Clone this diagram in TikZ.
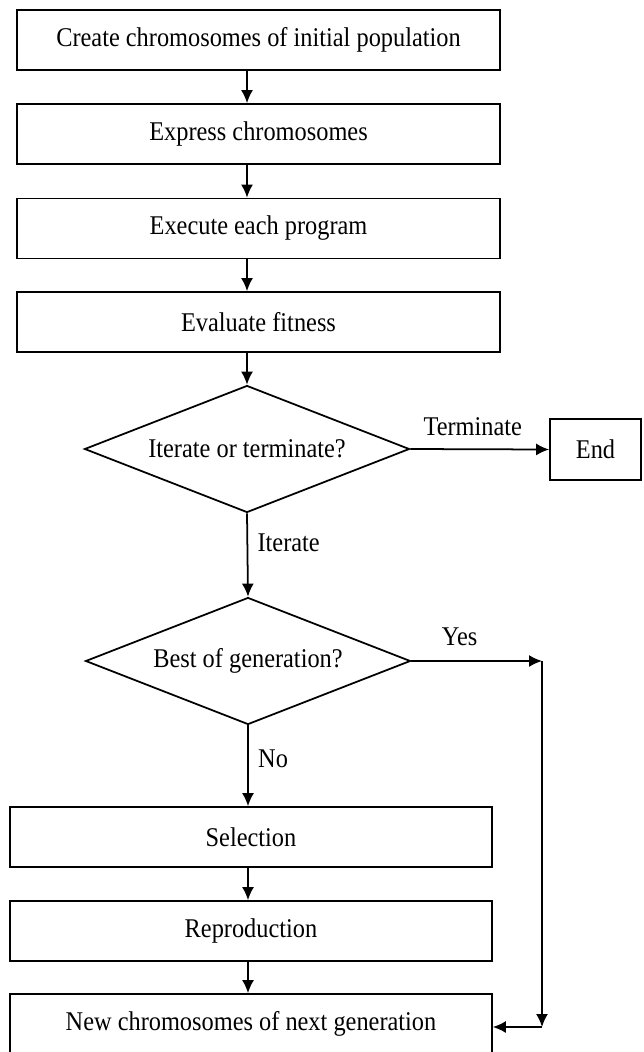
\documentclass[tikz,border=0pt]{standalone}
\usepackage{fontspec}
\setmainfont[FakeStretch=0.9]{Liberation Serif}
\usepackage{tikz}
\usetikzlibrary{shapes.geometric, arrows.meta}

\tikzset{
  box/.style={draw, line width=1pt, minimum width=9.66cm, minimum height=1.2cm, inner sep=0pt},
  decision/.style={draw, diamond, aspect=2.56, line width=1pt, minimum width=6.5cm, minimum height=2.54cm, inner sep=0pt},
  flow/.style={line width=1pt, -{Latex[length=0.26cm, width=0.24cm]}},
}

\begin{document}
\begin{tikzpicture}[x=0.02cm, y=-0.02cm, font=\fontsize{15.4}{18}\selectfont]
\useasboundingbox (0,0) rectangle (643,1052);
\foreach \n/\y/\t in {start/40/Create chromosomes of initial population, express/134/Express chromosomes, execute/228.5/Execute each program, evaluate/322/Evaluate fitness}
\node[box] (\n) at (258.5,\y) {\t};
\node[decision] (iter) at (247,449) {Iterate or terminate?};
\node[box, minimum width=1.82cm, minimum height=1.22cm] (end) at (595.5,449.5) {End};
\node[decision] (best) at (248,661) {Best of generation?};
\foreach \n/\y/\t in {select/837/Selection, reprod/931/Reproduction, newgen/1024/New chromosomes of next generation}
\node[box, minimum width=9.64cm] (\n) at (251,\y) {\t};
\foreach \a/\b in {start/express, express/execute, execute/evaluate, evaluate/iter}
\draw[flow] (\a.south -| iter) -- (\b.north -| iter);
\draw[flow] (iter.east) -- (end.west) node[pos=0.45, above=4pt] {Terminate};
\draw[flow] (iter.south) -- (best.north) node[pos=0.35, right=2pt] {Iterate};
\draw[flow] (best.south) -- (select.north -| best) node[pos=0.41, right=2pt] {No};
\foreach \a/\b in {select/reprod, reprod/newgen}
\draw[flow] (\a.south -| best) -- (\b.north -| best);
% yes branch goes round the right side
\coordinate (yestop) at (542,661);
\coordinate (yesbot) at (542,1027);
\draw[flow] (best.east) -- (yestop) node[pos=0.37, above=5pt] {Yes};
\draw[flow] (yestop) -- (yesbot);
\draw[flow] (yesbot) -- (yesbot -| newgen.east);
\end{tikzpicture}
\end{document}
